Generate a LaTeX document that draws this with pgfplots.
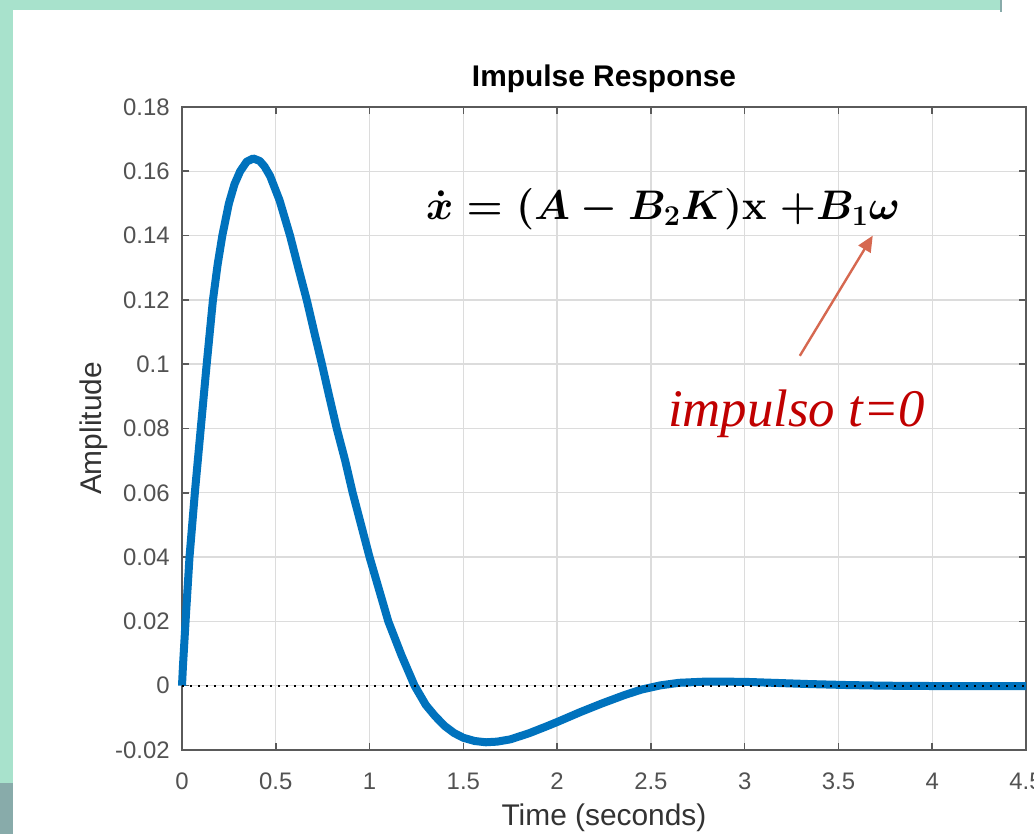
\documentclass[border=0pt]{standalone}
\usepackage[no-math]{fontspec}
\setmainfont{Liberation Sans}
\newfontfamily\serifit{Liberation Serif}
\usepackage{amsmath,amssymb}
\usepackage{pgfplots}
\usepackage{pgfplotstable}
\pgfplotsset{compat=1.18}
\usetikzlibrary{arrows.meta}

\definecolor{mlblue}{RGB}{0,114,189}
\definecolor{mint}{RGB}{168,226,204}
\definecolor{slate}{RGB}{136,171,170}
\definecolor{axgray}{RGB}{90,90,90}
\definecolor{gridgray}{RGB}{220,220,220}
\definecolor{darkred}{RGB}{192,0,0}
\definecolor{arrowred}{RGB}{214,104,80}

\newsavebox\eqbox
\newsavebox\imbox

% impulse response
\pgfplotstableread{
t v
0 0
0.005 0.006
0.02 0.021
0.04 0.040
0.07 0.061
0.10 0.080
0.13 0.099
0.165 0.120
0.19 0.131
0.215 0.140
0.25 0.150
0.28 0.156
0.31 0.160
0.345 0.1630
0.38 0.1640
0.415 0.1632
0.44 0.1615
0.47 0.1585
0.52 0.151
0.576 0.140
0.62 0.130
0.665 0.120
0.705 0.110
0.746 0.100
0.785 0.090
0.825 0.080
0.87 0.070
0.91 0.060
0.955 0.050
1.00 0.040
1.05 0.030
1.10 0.020
1.17 0.0095
1.24 0.000
1.30 -0.0060
1.35 -0.0095
1.40 -0.0125
1.45 -0.0147
1.50 -0.0162
1.56 -0.0172
1.62 -0.0176
1.68 -0.0174
1.75 -0.0167
1.85 -0.0148
1.95 -0.0125
2.00 -0.0113
2.12 -0.0083
2.24 -0.0055
2.36 -0.0029
2.45 -0.0012
2.55 0.0001
2.65 0.0009
2.80 0.0013
3.00 0.0012
3.15 0.0009
3.35 0.0005
3.55 0.0002
3.75 0.0000
4.00 -0.0001
4.50 -0.0001
}\impulse

\begin{document}
\sbox\eqbox{\fontsize{21.5}{25}\selectfont\boldmath$\dot{x} = (A - B_{2}K)\mathbf{x}\;{+}B_{1}\omega$}%
\sbox\imbox{\color{darkred}\serifit\itshape\fontsize{26.5}{30}\selectfont impulso t=0}%
\begin{tikzpicture}
\fill[white] (0,0) rectangle (517bp,417bp);
\fill[mint] (0,25.5bp) rectangle (6.5bp,417bp);
\fill[slate] (0,0) rectangle (6.5bp,25.5bp);
\fill[mint] (0,412bp) rectangle (500bp,417bp);
\draw[slate,line width=1bp] (500.5bp,411bp) -- (500.5bp,417bp);
\begin{axis}[at={(91bp,42bp)},anchor=south west,scale only axis,
 width=422bp,height=321.5bp,clip=false,
 xmin=0,xmax=4.5,ymin=-0.02,ymax=0.18,
 xtick={0,0.5,1,1.5,2,2.5,3,3.5,4,4.5},
 ytick={-0.02,0,0.02,0.04,0.06,0.08,0.1,0.12,0.14,0.16,0.18},
 scaled y ticks=false,scaled x ticks=false,
 /pgf/number format/assume math mode=true,
 xticklabel style={/pgf/number format/fixed,/pgf/number format/precision=2},
 yticklabel style={/pgf/number format/fixed,/pgf/number format/precision=2},
 tick align=inside,tick pos=both,major tick length=3.5bp,
 tick style={axgray,line width=0.8bp},
 axis line style={axgray,line width=0.9bp},
 grid=major,grid style={gridgray,line width=0.7bp},
 ticklabel style={font=\fontsize{12}{14}\selectfont,text=black!68,inner sep=0pt},
 xticklabel style={anchor=base,yshift=-20bp},
 yticklabel style={anchor=east,xshift=-6bp},
 title={Impulse Response},
 title style={font=\fontsize{15}{18}\selectfont\bfseries,anchor=base,yshift=4.5bp,inner sep=0pt},
 xlabel={Time (seconds)},
 xlabel style={font=\fontsize{15}{18}\selectfont,text=black!80,at={(axis description cs:0.5,0)},anchor=base,yshift=-38bp,inner sep=0pt},
 ylabel={Amplitude},
 ylabel style={font=\fontsize{15}{18}\selectfont,text=black!80},
]
\addplot[mlblue,line width=4bp,line join=round] table[x=t,y=v] {\impulse};
\addplot[black,line width=1.1bp,dash pattern=on 1bp off 3bp] coordinates {(0,0) (4.5,0)};
\coordinate (eqpos) at (axis cs:1.30,0.145);
\coordinate (arrA) at (axis cs:3.294,0.1026);
\coordinate (arrB) at (axis cs:3.683,0.140);
\coordinate (impos) at (axis cs:2.59,0.0806);
\end{axis}
\path (eqpos) node[anchor=base west,inner sep=0pt] {\usebox\eqbox};
\draw[arrowred,line width=1.2bp,-{Triangle[length=8bp,width=7bp]}] (arrA) -- (arrB);
\path (impos) node[anchor=base west,inner sep=0pt] {\usebox\imbox};
\pgfresetboundingbox
\path[use as bounding box] (0,0) rectangle (517bp,417bp);
\end{tikzpicture}
\end{document}
